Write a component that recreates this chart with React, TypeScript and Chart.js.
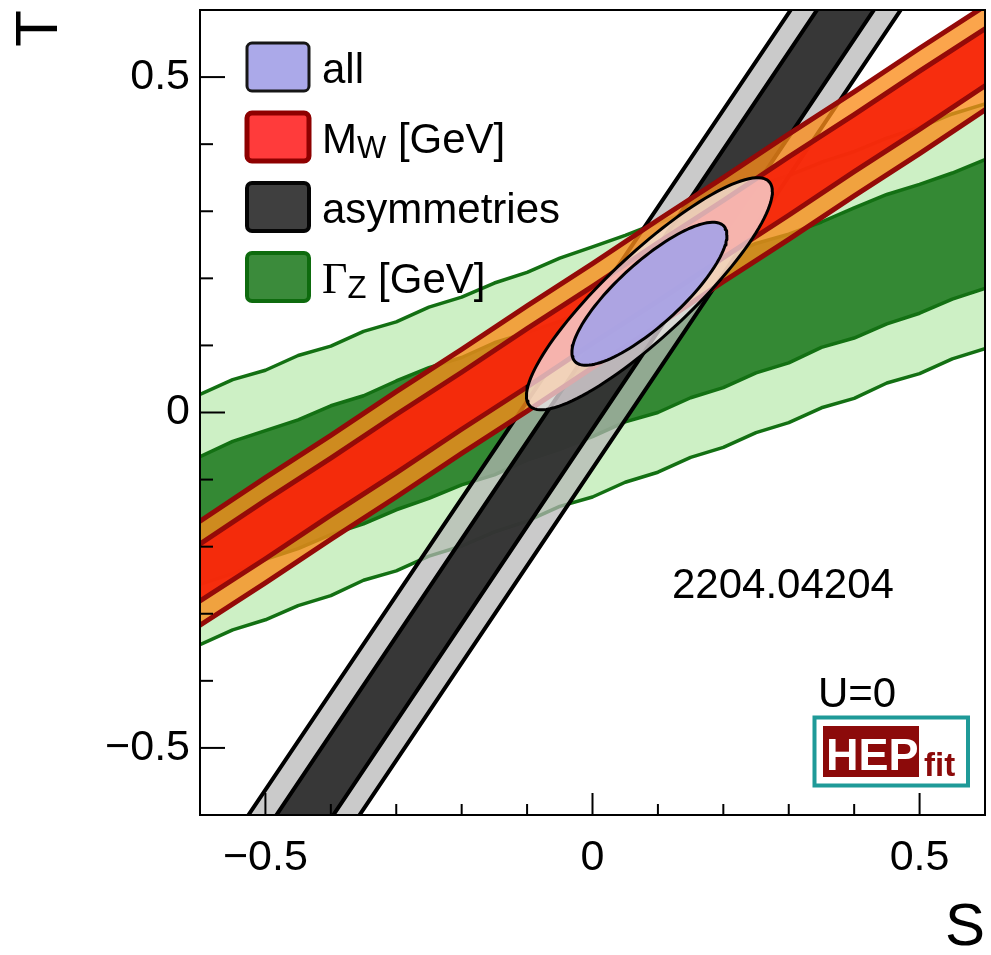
import React, { useEffect, useRef } from 'react';
import { Chart, registerables } from 'chart.js';

Chart.register(...registerables);

// ---------------- axes ----------------
const S_MIN = -0.6;
const S_MAX = 0.6;
const T_MIN = -0.6;
const T_MAX = 0.6;
const majorTicks = [-0.5, 0, 0.5];
const minorTicks = [-0.4, -0.3, -0.2, -0.1, 0.1, 0.2, 0.3, 0.4];
const xTitle = 'S';
const yTitle = 'T';

// ---------------- Γ_Z band (edges sampled along S) ----------------
const gzS = [-0.7, -0.65, -0.6, -0.55, -0.5, -0.45, -0.4, -0.35, -0.3, -0.25, -0.2, -0.15, -0.1, -0.05, 0, 0.05, 0.1, 0.15, 0.2, 0.25, 0.3, 0.35, 0.4, 0.45, 0.5, 0.55, 0.6, 0.65, 0.7];
const gzOuterUpper = [-0.007, 0.011, 0.027, 0.049, 0.063, 0.085, 0.099, 0.121, 0.135, 0.157, 0.172, 0.193, 0.209, 0.230, 0.247, 0.264, 0.283, 0.299, 0.318, 0.337, 0.353, 0.373, 0.389, 0.409, 0.425, 0.445, 0.460, 0.480, 0.497];
const gzInnerUpper = [-0.101, -0.084, -0.066, -0.043, -0.027, -0.011, 0.010, 0.025, 0.047, 0.067, 0.082, 0.104, 0.119, 0.136, 0.157, 0.177, 0.192, 0.210, 0.231, 0.252, 0.266, 0.284, 0.305, 0.325, 0.340, 0.357, 0.377, 0.398, 0.416];
const gzInnerLower = [-0.293, -0.276, -0.256, -0.240, -0.219, -0.203, -0.182, -0.166, -0.145, -0.128, -0.108, -0.093, -0.071, -0.055, -0.036, -0.014, 0.000, 0.022, 0.037, 0.059, 0.074, 0.097, 0.111, 0.132, 0.148, 0.169, 0.185, 0.206, 0.224];
const gzOuterLower = [-0.381, -0.364, -0.346, -0.324, -0.309, -0.288, -0.273, -0.250, -0.236, -0.214, -0.199, -0.178, -0.162, -0.140, -0.126, -0.104, -0.089, -0.067, -0.052, -0.030, -0.015, 0.007, 0.021, 0.044, 0.058, 0.080, 0.095, 0.117, 0.134];

// ---------------- M_W band (edges sampled along S) ----------------
const mwS = [-0.7, -0.6, -0.5, -0.4, -0.3, -0.2, -0.1, 0, 0.1, 0.2, 0.3, 0.4, 0.5, 0.6, 0.7];
const mwOuterUpper = [-0.226, -0.162, -0.097, -0.034, 0.031, 0.094, 0.159, 0.222, 0.287, 0.350, 0.415, 0.478, 0.543, 0.606, 0.670];
const mwInnerUpper = [-0.260, -0.196, -0.131, -0.068, -0.003, 0.060, 0.125, 0.188, 0.253, 0.316, 0.381, 0.444, 0.509, 0.572, 0.636];
const mwInnerLower = [-0.345, -0.281, -0.218, -0.153, -0.090, -0.025, 0.038, 0.103, 0.166, 0.231, 0.294, 0.359, 0.422, 0.487, 0.551];
const mwOuterLower = [-0.381, -0.317, -0.254, -0.189, -0.126, -0.061, 0.002, 0.067, 0.130, 0.195, 0.258, 0.323, 0.386, 0.451, 0.515];

// ---------------- asymmetries band (edges sampled along T) ----------------
const asymT = [-0.7, 0.7];
const asymOuterLeft = [-0.595, 0.372];
const asymInnerLeft = [-0.552, 0.412];
const asymInnerRight = [-0.465, 0.499];
const asymOuterRight = [-0.425, 0.540];

// ---------------- "all" fit ellipses ----------------
const allCenter = [0.087, 0.177];
const allOuterHalfWidths = [0.188, 0.173];
const allOuterCorr = 0.88;
const allInnerHalfWidths = [0.1185, 0.1066];
const allInnerCorr = 0.82;

// ---------------- legend & annotations ----------------
const legendMain = ['all', 'M', 'asymmetries', '\u0393'];
const legendSub = ['', 'W', '', 'Z'];
const legendRest = ['', ' [GeV]', '', ' [GeV]'];
const paperLabel = '2204.04204';
const uLabel = 'U=0';
const logoMain = 'HEP';
const logoSub = 'fit';

type Pt = { x: number; y: number };

function bandAlongS(s: number[], upper: number[], lower: number[]): Pt[] {
  const pts: Pt[] = [];
  for (let i = 0; i < s.length; i++) pts.push({ x: s[i], y: upper[i] });
  for (let i = s.length - 1; i >= 0; i--) pts.push({ x: s[i], y: lower[i] });
  pts.push({ ...pts[0] });
  return pts;
}

function bandAlongT(t: number[], left: number[], right: number[]): Pt[] {
  const pts: Pt[] = [];
  for (let i = 0; i < t.length; i++) pts.push({ x: left[i], y: t[i] });
  for (let i = t.length - 1; i >= 0; i--) pts.push({ x: right[i], y: t[i] });
  pts.push({ ...pts[0] });
  return pts;
}

function ellipse(center: number[], half: number[], rho: number): Pt[] {
  const pts: Pt[] = [];
  const n = 120;
  const k = Math.sqrt(1 - rho * rho);
  for (let i = 0; i <= n; i++) {
    const a = (i / n) * Math.PI * 2;
    const c = Math.cos(a);
    const s = Math.sin(a);
    pts.push({ x: center[0] + half[0] * c, y: center[1] + half[1] * (rho * c + k * s) });
  }
  return pts;
}

const SANS = "'Liberation Sans', Arial, Helvetica, sans-serif";
const SERIF = "'Liberation Serif', 'DejaVu Serif', serif";

export default function App() {
  const canvasRef = useRef<HTMLCanvasElement | null>(null);

  useEffect(() => {
    const canvas = canvasRef.current;
    if (!canvas) return;

    const poly = (data: Pt[], fill: string, stroke: string, lw: number, order: number) => ({
      data,
      backgroundColor: fill,
      borderColor: stroke,
      borderWidth: lw,
      fill: 'shape',
      pointRadius: 0,
      pointHoverRadius: 0,
      tension: 0,
      order,
      clip: 0,
      borderJoinStyle: 'round',
      showLine: true,
      spanGaps: true,
    });

    const legendStyle = [
      { fill: '#aba9e9', stroke: '#161616', lw: 3 },
      { fill: '#ff3b3b', stroke: '#8e0000', lw: 5 },
      { fill: '#3f3f3f', stroke: '#050505', lw: 4 },
      { fill: '#3b8b3b', stroke: '#0e6b0e', lw: 4 },
    ];

    const overlay = {
      id: 'overlay',
      afterDatasetsDraw(chart: any) {
        const { ctx, chartArea: ca, scales } = chart;
        const xs = scales.x;
        const ys = scales.y;
        ctx.save();
        ctx.strokeStyle = '#000';
        ctx.lineWidth = 2;
        const seg = (x1: number, y1: number, x2: number, y2: number) => {
          ctx.beginPath();
          ctx.moveTo(x1, y1);
          ctx.lineTo(x2, y2);
          ctx.stroke();
        };
        for (const v of majorTicks) {
          const px = xs.getPixelForValue(v);
          seg(px, ca.bottom, px, ca.bottom - 22);
          const py = ys.getPixelForValue(v);
          seg(ca.left, py, ca.left + 25, py);
        }
        for (const v of minorTicks) {
          const px = xs.getPixelForValue(v);
          seg(px, ca.bottom, px, ca.bottom - 11);
          const py = ys.getPixelForValue(v);
          seg(ca.left, py, ca.left + 13, py);
        }
        // frame
        ctx.lineWidth = 2;
        ctx.strokeRect(ca.left, ca.top, ca.right - ca.left, ca.bottom - ca.top);

        // legend
        for (let i = 0; i < legendMain.length; i++) {
          const st = legendStyle[i];
          const bx = ca.left + 47;
          const by = ca.top + 33 + i * 70;
          ctx.beginPath();
          (ctx as any).roundRect(bx, by, 62, 48, 5);
          ctx.fillStyle = st.fill;
          ctx.fill();
          ctx.lineWidth = st.lw;
          ctx.strokeStyle = st.stroke;
          ctx.stroke();
          let tx = ca.left + 122;
          const base = by + 40;
          ctx.fillStyle = '#000';
          ctx.textBaseline = 'alphabetic';
          ctx.textAlign = 'left';
          ctx.font = (legendMain[i] === '\u0393' ? `44px ${SERIF}` : `42px ${SANS}`);
          ctx.fillText(legendMain[i], tx, base);
          tx += ctx.measureText(legendMain[i]).width;
          if (legendSub[i]) {
            ctx.font = `31px ${SANS}`;
            ctx.fillText(legendSub[i], tx, base + 5);
            tx += ctx.measureText(legendSub[i]).width;
          }
          if (legendRest[i]) {
            ctx.font = `42px ${SANS}`;
            ctx.fillText(legendRest[i], tx, base);
          }
        }

        // annotations
        ctx.fillStyle = '#000';
        ctx.font = `42px ${SANS}`;
        ctx.fillText(paperLabel, ca.left + 472, ca.top + 588);
        ctx.fillText(uLabel, ca.left + 618, ca.top + 697);

        // HEPfit logo
        ctx.strokeStyle = '#1f9a98';
        ctx.lineWidth = 4;
        ctx.strokeRect(ca.left + 614.5, ca.top + 707.5, 153.5, 68);
        ctx.fillStyle = '#8c0a0a';
        ctx.fillRect(ca.left + 623, ca.top + 716, 96, 51);
        ctx.fillStyle = '#ffffff';
        ctx.font = `bold 45px ${SANS}`;
        ctx.fillText(logoMain, ca.left + 626, ca.top + 760);
        ctx.fillStyle = '#8c0a0a';
        ctx.font = `bold 33px ${SANS}`;
        ctx.fillText(logoSub, ca.left + 724, ca.top + 766);
        ctx.restore();
      },
    };

    const chart = new Chart(canvas, {
      type: 'line',
      data: {
        datasets: [
          poly(bandAlongS(gzS, gzOuterUpper, gzOuterLower), '#cdf0c5', '#137013', 3.5, 100),
          poly(bandAlongS(gzS, gzInnerUpper, gzInnerLower), '#348934', '#137013', 3.5, 99),
          poly(bandAlongT(asymT, asymOuterLeft, asymOuterRight), 'rgba(182,182,182,0.72)', '#000000', 4, 98),
          poly(bandAlongT(asymT, asymInnerLeft, asymInnerRight), 'rgba(44,44,44,0.93)', '#000000', 4, 97),
          poly(bandAlongS(mwS, mwOuterUpper, mwOuterLower), 'rgba(250,140,25,0.78)', '#940a08', 5, 96),
          poly(bandAlongS(mwS, mwInnerUpper, mwInnerLower), 'rgba(246,36,10,0.93)', '#940a08', 5, 95),
          poly(ellipse(allCenter, allOuterHalfWidths, allOuterCorr), 'rgba(246,238,242,0.7)', '#000000', 3, 94),
          poly(ellipse(allCenter, allInnerHalfWidths, allInnerCorr), 'rgba(168,163,230,0.94)', '#000000', 3, 93),
        ] as any,
      },
      options: {
        animation: false,
        responsive: false,
        maintainAspectRatio: false,
        devicePixelRatio: 1,
        events: [],
        layout: { padding: { left: 0, right: 6, top: 10, bottom: 0 }, autoPadding: false } as any,
        plugins: {
          legend: { display: false },
          tooltip: { enabled: false },
        },
        scales: {
          x: {
            type: 'linear',
            position: 'bottom',
            min: S_MIN,
            max: S_MAX,
            grid: { display: false, drawTicks: false },
            border: { display: false },
            afterBuildTicks: (s: any) => {
              s.ticks = majorTicks.map((v) => ({ value: v }));
            },
            afterFit: (s: any) => {
              s.height = 140;
              s.paddingLeft = 0;
              s.paddingRight = 0;
            },
            ticks: {
              padding: 17,
              maxRotation: 0,
              autoSkip: false,
              color: '#000',
              font: { family: SANS, size: 43 },
              callback: (v: any) => (v === 0 ? '0' : v < 0 ? '\u2212' + Math.abs(v) : String(v)),
            },
            title: {
              display: true,
              text: xTitle,
              align: 'end',
              color: '#000',
              font: { family: SANS, size: 60, lineHeight: 0.9 },
              padding: { top: 0, bottom: 0 },
            },
          },
          y: {
            type: 'linear',
            position: 'left',
            min: T_MIN,
            max: T_MAX,
            grid: { display: false, drawTicks: false },
            border: { display: false },
            afterBuildTicks: (s: any) => {
              s.ticks = majorTicks.map((v) => ({ value: v }));
            },
            afterFit: (s: any) => {
              s.width = 200;
              s.paddingTop = 0;
              s.paddingBottom = 0;
            },
            ticks: {
              padding: 10,
              autoSkip: false,
              color: '#000',
              font: { family: SANS, size: 43 },
              callback: (v: any) => (v === 0 ? '0' : v < 0 ? '\u2212' + Math.abs(v) : String(v)),
            },
            title: {
              display: true,
              text: yTitle,
              align: 'end',
              color: '#000',
              font: { family: SANS, size: 60, lineHeight: 0.9 },
              padding: { top: 13, bottom: 0 },
            },
          },
        },
      } as any,
      plugins: [overlay],
    });

    return () => chart.destroy();
  }, []);

  return (
    <div style={{ position: 'fixed', left: 0, top: 0, width: 991, height: 955, background: '#ffffff' }}>
      <canvas ref={canvasRef} width={991} height={955} style={{ display: 'block' }} />
    </div>
  );
}
